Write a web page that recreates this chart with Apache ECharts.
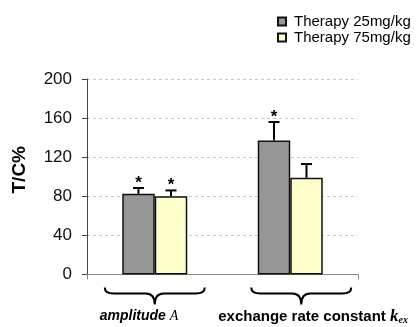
<!DOCTYPE html>
<html>
<head>
<meta charset="utf-8">
<script src="https://cdn.jsdelivr.net/npm/echarts@6/dist/echarts.min.js"></script>
<style>html,body{margin:0;padding:0;background:#fff;}#c{width:418px;height:327px;}</style>
</head>
<body>
<div id="c"></div>
<script>
var categories = ['amplitude A', 'exchange rate constant kex'];
var seriesNames = ['Therapy 25mg/kg', 'Therapy 75mg/kg'];
var dose25 = [82.5, 137];
var dose25Err = [6, 19];
var dose75 = [80, 99];
var dose75Err = [6, 14];
var sig25 = [true, true];
var sig75 = [true, false];
var yTicks = [0, 40, 80, 120, 160, 200];

var FONT = 'Liberation Sans';
var BAR_W = 32.5;

function errSeries(vals, errs, sigs, offset) {
  return {
    type: 'custom',
    clip: false,
    silent: true,
    z: 5,
    data: vals.map(function (v, i) { return [i, v, errs[i], sigs[i] ? 1 : 0]; }),
    encode: { x: 0, y: 1 },
    renderItem: function (params, api) {
      var i = api.value(0), v = api.value(1), e = api.value(2), s = api.value(3);
      var p0 = api.coord([i, v]);
      var p1 = api.coord([i, v + e]);
      var x = p0[0] + offset;
      var children = [
        { type: 'line', shape: { x1: x, y1: p0[1], x2: x, y2: p1[1] }, style: { stroke: '#000', lineWidth: 2 } },
        { type: 'line', shape: { x1: x - 5.5, y1: p1[1], x2: x + 5.5, y2: p1[1] }, style: { stroke: '#000', lineWidth: 2 } }
      ];
      if (s) {
        children.push({ type: 'text', style: { text: '*', x: x, y: p1[1] - 5, fontSize: 17, fontWeight: 'bold', fontFamily: FONT, fill: '#000', align: 'center', verticalAlign: 'middle' } });
      }
      return { type: 'group', children: children };
    }
  };
}

var braceSeries = {
  type: 'custom',
  clip: false,
  silent: true,
  data: categories.map(function (c, i) { return [i, 0]; }),
  encode: { x: 0, y: 1 },
  renderItem: function (params, api) {
    var i = api.value(0);
    var p = api.coord([i, 0]);
    var base = p[1];
    var xc = p[0] + (i === 0 ? 0 : 11);
    var hw = 50;
    var x0 = xc - hw, x1 = xc + hw;
    var y0 = base + 13, ym = base + 19, yt = base + 30;
    var d = 'M' + x0 + ' ' + y0 + ' Q' + x0 + ' ' + ym + ' ' + (x0 + 9) + ' ' + ym +
      ' L' + (xc - 9) + ' ' + ym + ' Q' + xc + ' ' + ym + ' ' + xc + ' ' + yt +
      ' Q' + xc + ' ' + ym + ' ' + (xc + 9) + ' ' + ym +
      ' L' + (x1 - 9) + ' ' + ym + ' Q' + x1 + ' ' + ym + ' ' + x1 + ' ' + y0;
    var label;
    if (i === 0) {
      label = {
        type: 'text',
        style: {
          x: p[0] - 55, y: base + 42, align: 'left', verticalAlign: 'middle',
          text: '{a|amplitude }{b|A}',
          rich: {
            a: { fontFamily: FONT, fontSize: 14, fontWeight: 'bold', fontStyle: 'italic', fill: '#000' },
            b: { fontFamily: 'Liberation Serif', fontSize: 14, fontStyle: 'italic', fill: '#000' }
          }
        }
      };
    } else {
      label = {
        type: 'text',
        style: {
          x: p[0] - 72, y: base + 42, align: 'left', verticalAlign: 'middle',
          text: '{a|exchange rate constant }{b|k}{c|ex}',
          rich: {
            a: { fontFamily: FONT, fontSize: 15, fontWeight: 'bold', fill: '#000', lineHeight: 18 },
            b: { fontFamily: 'Liberation Serif', fontSize: 17, fontWeight: 'bold', fontStyle: 'italic', fill: '#000', lineHeight: 18 },
            c: { fontFamily: 'Liberation Serif', fontSize: 10, fontStyle: 'italic', fontWeight: 'bold', fill: '#000', verticalAlign: 'bottom', lineHeight: 10, padding: [8, 0, 0, 0] }
          }
        }
      };
    }
    return {
      type: 'group',
      children: [
        { type: 'path', shape: { pathData: d }, style: { stroke: '#000', lineWidth: 2, fill: null } },
        label
      ]
    };
  }
};

var chart = echarts.init(document.getElementById('c'), null, { renderer: 'canvas' });
chart.setOption({
  animation: false,
  backgroundColor: '#fff',
  textStyle: { fontFamily: FONT },
  legend: {
    orient: 'vertical',
    left: 272,
    top: 9,
    itemWidth: 8,
    itemHeight: 8,
    itemGap: 1,
    icon: 'rect',
    data: seriesNames,
    textStyle: { fontFamily: FONT, fontSize: 15, color: '#000', padding: [0, 0, 0, 3], lineHeight: 14 }
  },
  grid: { left: 87, right: 60, top: 79, bottom: 52.5, containLabel: false },
  xAxis: {
    type: 'category',
    data: categories,
    boundaryGap: true,
    axisLine: { lineStyle: { color: '#888', width: 1 } },
    axisTick: { show: true, length: 5, lineStyle: { color: '#888' } },
    axisLabel: { show: false },
    splitLine: { show: false }
  },
  yAxis: {
    type: 'value',
    min: 0,
    max: 200,
    interval: 40,
    name: 'T/C%',
    nameLocation: 'middle',
    nameRotate: 90,
    nameGap: 58,
    nameTextStyle: { fontFamily: FONT, fontSize: 19, fontWeight: 'bold', color: '#000', padding: [0, 0, 0, 14] },
    axisLine: { show: true, lineStyle: { color: '#444', width: 1 } },
    axisTick: { show: true, length: 5, lineStyle: { color: '#444' } },
    axisLabel: {
      margin: 15, fontSize: 17, color: '#111', fontFamily: FONT,
      formatter: function (v) { return yTicks.indexOf(v) >= 0 ? String(v) : ''; }
    },
    splitLine: { show: true, lineStyle: { color: '#c8c8c8', type: [3, 3], width: 1 } }
  },
  series: [
    {
      name: seriesNames[0], type: 'bar', data: dose25, barWidth: BAR_W, barGap: '0%',
      itemStyle: { color: '#969696', borderColor: '#111', borderWidth: 1.5 }
    },
    {
      name: seriesNames[1], type: 'bar', data: dose75, barWidth: BAR_W, barGap: '0%',
      itemStyle: { color: '#FFFFCC', borderColor: '#111', borderWidth: 1.5 }
    },
    errSeries(dose25, dose25Err, sig25, -BAR_W / 2),
    errSeries(dose75, dose75Err, sig75, BAR_W / 2),
    braceSeries
  ]
});
</script>
</body>
</html>
